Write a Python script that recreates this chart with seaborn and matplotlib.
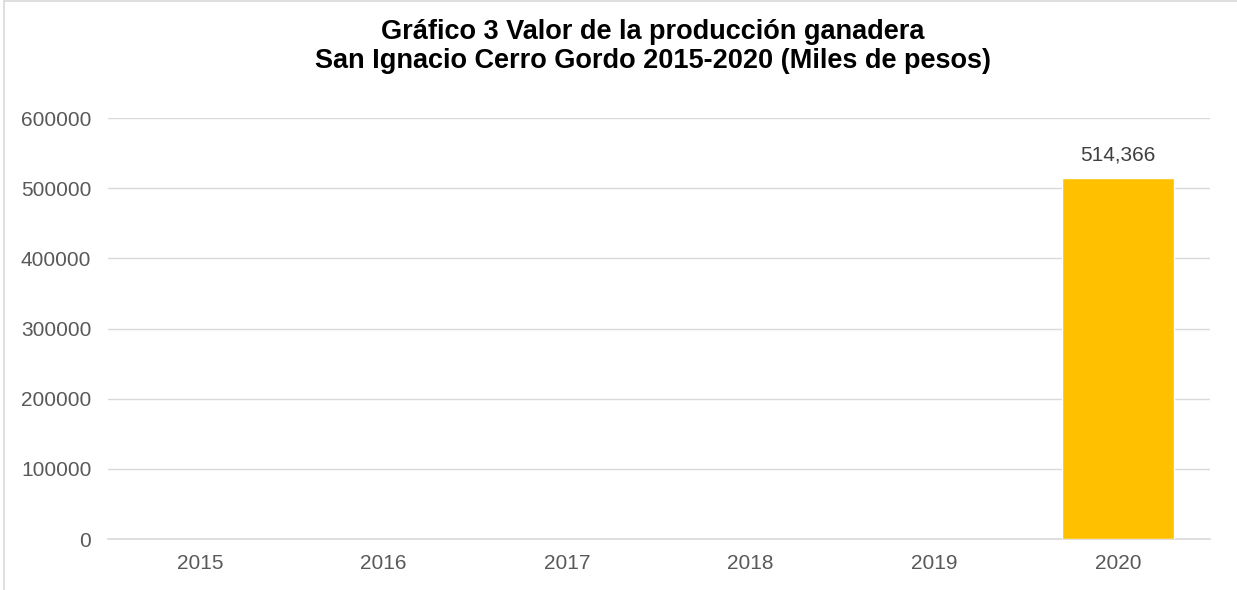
import numpy as np
import pandas as pd
import seaborn as sns
import matplotlib.pyplot as plt

# Valor de la produccion ganadera (miles de pesos); 2015-2019 sin dato
years = ["2015", "2016", "2017", "2018", "2019", "2020"]
values = [np.nan, np.nan, np.nan, np.nan, np.nan, 514366]

df = pd.DataFrame({"year": years, "value": values})

sns.set_style("white")
plt.rcParams["font.family"] = ["Liberation Sans", "DejaVu Sans"]

fig = plt.figure(figsize=(12.37, 5.9), dpi=100)
ax = fig.add_axes([0.0873, 0.0864, 0.8907, 0.7136])

sns.barplot(data=df, x="year", y="value", color="#FFC000", saturation=1,
            width=0.615, ax=ax, zorder=3)

# data label only where there is a value
for i, v in enumerate(values):
    if not np.isnan(v):
        ax.text(i, v + 19000, f"{int(v):,}", ha="center", va="bottom",
                fontsize=15, color="#404040")

ax.set_ylim(0, 600000)
ax.set_yticks(range(0, 600001, 100000))
ax.set_yticklabels([str(t) for t in range(0, 600001, 100000)])
ax.yaxis.grid(True, color="#D9D9D9", linewidth=1, zorder=0)
ax.set_axisbelow(True)
for s in ["top", "right", "left"]:
    ax.spines[s].set_visible(False)
ax.spines["bottom"].set_color("#D9D9D9")
ax.spines["bottom"].set_linewidth(1.2)
ax.tick_params(axis="both", length=0, labelsize=15, labelcolor="#595959")
ax.tick_params(axis="y", pad=12)
ax.tick_params(axis="x", pad=11)
ax.set_xlabel("")
ax.set_ylabel("")

fig.text(0.528, 0.921,
         "Gráfico 3 Valor de la producción ganadera\n"
         "San Ignacio Cerro Gordo 2015-2020 (Miles de pesos)",
         ha="center", va="center", fontsize=19.5, fontweight="bold",
         color="black", linespacing=1.17)

# chart frame (only left and top edges visible in the crop)
fig.add_artist(plt.Line2D([0.003, 0.003], [0, 0.998], color="#D9D9D9",
                          linewidth=1.2, transform=fig.transFigure))
fig.add_artist(plt.Line2D([0.003, 1], [0.998, 0.998], color="#D9D9D9",
                          linewidth=1.2, transform=fig.transFigure))

fig.savefig("out.png", dpi=100, facecolor="white")
